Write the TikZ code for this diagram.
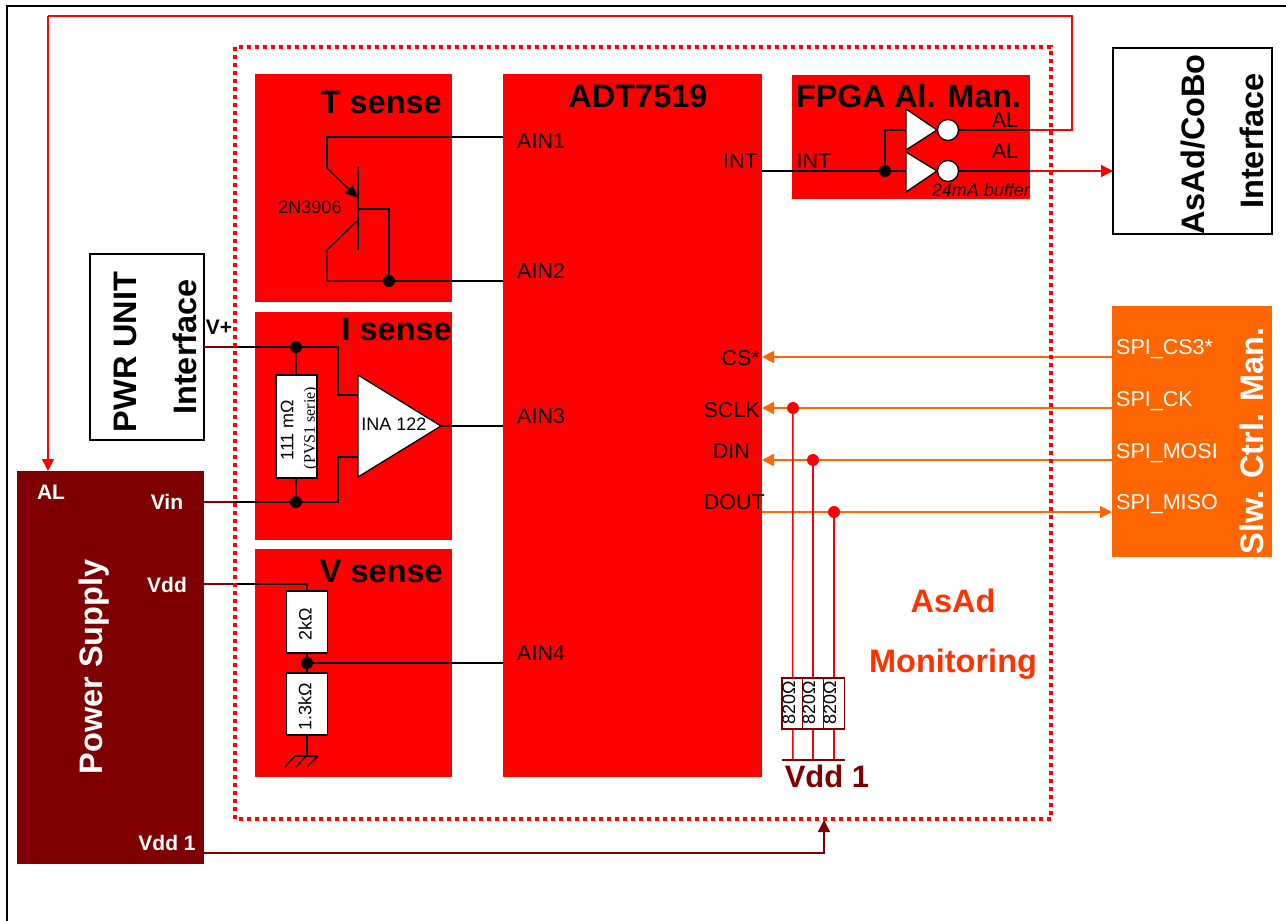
\documentclass[tikz,border=0pt]{standalone}
\usepackage{fontspec}
\setmainfont{Liberation Sans}
\newfontfamily\serifpart{Liberation Serif}
\usetikzlibrary{arrows.meta}
\definecolor{darkmaroon}{HTML}{7F0000}
\definecolor{slworange}{HTML}{FF6600}
\definecolor{asadorange}{HTML}{FF3300}
\tikzset{
  block/.style={fill=red, inner sep=0pt},
  whitebox/.style={draw=black, line width=1.5pt, fill=white, inner sep=0pt},
  resbox/.style={draw=black, line width=1.3pt, fill=white, inner sep=0pt},
  pullbox/.style={draw=darkmaroon, line width=1.5pt, fill=white, inner sep=0pt, minimum width=21, minimum height=51},
  dot/.style={circle, fill=black, inner sep=0pt, minimum size=12},
  reddot/.style={circle, fill=red, inner sep=0pt, minimum size=12},
  pin/.style={inner sep=0pt, font=\fontsize{21.5}{23}\selectfont},
  small/.style={inner sep=0pt, font=\fontsize{18}{20}\selectfont},
  title/.style={inner sep=0pt, font=\fontsize{32.5}{35}\selectfont\bfseries},
  port/.style={inner sep=0pt, font=\fontsize{21}{23}\selectfont\bfseries},
  wire/.style={black, line width=1.3pt},
  feed/.style={darkmaroon, line width=2pt},
  alarm/.style={red, line width=1.5pt},
  spi/.style={slworange, line width=1.8pt},
  pull/.style={red, line width=1.5pt},
  tip/.style={-{Triangle[length=12pt,width=12pt]}}
}
\begin{document}
\begin{tikzpicture}[x=1pt,y=-1pt]
\useasboundingbox (0,0) rectangle (1286,921);
\coordinate (framebl) at (7,921);
\coordinate (frametl) at (7,6);
\coordinate (frametr) at (1286,6);
\draw[black, line width=1.5pt] (framebl) -- (frametl) -- (frametr);

% blocks
\node[block, minimum width=197, minimum height=228] (tsense) at (353.5,188) {};
\node[block, minimum width=197, minimum height=228] (isense) at (353.5,426) {};
\node[block, minimum width=197, minimum height=228] (vsense) at (353.5,663) {};
\node[block, minimum width=259, minimum height=703] (adt) at (632.5,425.5) {};
\node[block, minimum width=238, minimum height=124] (fpga) at (911,137) {};
\node[whitebox, minimum width=159, minimum height=186] (cobo) at (1192.5,141) {};
\node[whitebox, minimum width=114, minimum height=186] (pwr) at (147,347) {};
\node[fill=slworange, inner sep=0pt, minimum width=160, minimum height=251] (slw) at (1192,431.5) {};
\node[fill=darkmaroon, inner sep=0pt, minimum width=187, minimum height=393] (psu) at (110.5,667.5) {};

% block titles
\node[title, anchor=east] (ttitle) at (442,102) {T sense};
\node[title, anchor=east] (ititle) at (452,329) {I sense};
\node[title, anchor=east] (vtitle) at (443,571) {V sense};
\node[title] (adttitle) at (638,96) {ADT7519};
\node[title, font=\fontsize{32.2}{35}\selectfont\bfseries] (fpgatitle) at (908.5,96) {FPGA Al. Man.};
\node[title, rotate=90] (cobotext) at (1193,144.5) {AsAd/CoBo};
\node[title, rotate=90] (cobotextb) at (1252,141) {Interface};
\node[title, rotate=90] (pwrtext) at (125,352) {PWR UNIT};
\node[title, rotate=90] (pwrtextb) at (185,347) {Interface};
\node[title, rotate=90, white] (slwtext) at (1252,441) {Slw. Ctrl. Man.};
\node[title, rotate=90, white] (psutext) at (94.5,667) {Power Supply};
\node[title, asadorange] (mona) at (953,601) {AsAd};
\node[title, asadorange] (monb) at (953,664) {Monitoring};

% ADT pins
\coordinate (ain1) at (503,137);
\coordinate (ain2) at (503,281);
\coordinate (ain3) at (503,426);
\coordinate (ain4) at (503,663);
\coordinate (pint) at (762,171);
\coordinate (pcs) at (762,357);
\coordinate (psclk) at (762,408);
\coordinate (pdin) at (762,460);
\coordinate (pdout) at (762,512);
\node[pin, anchor=west] (lain1) at (517,141) {AIN1};
\node[pin, anchor=west] (lain2) at (517,271) {AIN2};
\node[pin, anchor=west] (lain3) at (517,416) {AIN3};
\node[pin, anchor=west] (lain4) at (517,653) {AIN4};
\node[pin, anchor=east] (lint) at (758,161) {INT};
\node[pin, anchor=east] (lcs) at (760,358) {CS*};
\node[pin, anchor=east] (lsclk) at (760,410) {SCLK};
\node[pin, anchor=east] (ldin) at (750,451) {DIN};
\node[pin, anchor=east] (ldout) at (765,502) {DOUT};

% T sense
\coordinate (qe) at (327,137);
\coordinate (qea) at (327,168);
\coordinate (qeb) at (358,198);
\coordinate (qba) at (358,167);
\coordinate (qbb) at (358,250);
\coordinate (qbc) at (358,209);
\coordinate (qbd) at (389,209);
\coordinate (qca) at (358,220);
\coordinate (qcb) at (327,250);
\coordinate (qcc) at (327,281);
\node[dot] (tdot) at (389,281) {};
\node[small] (qname) at (310,207) {2N3906};
\draw[wire] (ain1) -- (qe) -- (qea);
\draw[wire, -{Triangle[length=13pt,width=11pt]}] (qea) -- (qeb);
\draw[wire] (qba) -- (qbb);
\draw[wire] (qbc) -- (qbd) -- (tdot);
\draw[wire] (qca) -- (qcb) -- (qcc) -- (tdot);
\draw[wire] (tdot) -- (ain2);

% I sense
\coordinate (vpout) at (204,347);
\coordinate (vpin) at (235,347);
\coordinate (vinout) at (204,502);
\coordinate (vinin) at (235,502);
\coordinate (ina) at (338,347);
\coordinate (inb) at (338,395);
\coordinate (inc) at (358,395);
\coordinate (ind) at (338,502);
\coordinate (ine) at (338,457);
\coordinate (inf) at (358,457);
\coordinate (inga) at (358,375);
\coordinate (ingb) at (441,426);
\coordinate (ingc) at (358,477);
\node[dot] (idota) at (296,347) {};
\node[dot] (idotb) at (296,502) {};
\node[resbox, minimum width=41, minimum height=103] (rshunt) at (296.5,426.5) {};
\node[small, rotate=90] (rshunta) at (287,430) {111 mΩ};
\node[inner sep=0pt, rotate=90, font=\fontsize{16}{17}\selectfont\serifpart] (rshuntb) at (311,428) {(PVS1 serie)};
\draw[wire] (vpin) -- (idota) -- (ina) -- (inb) -- (inc);
\draw[wire] (vinin) -- (idotb) -- (ind) -- (ine) -- (inf);
\draw[wire] (idota) -- (rshunt);
\draw[wire] (idotb) -- (rshunt);
\draw[wire, fill=white] (inga) -- (ingb) -- (ingc) -- cycle;
\node[small] (inaname) at (394,424) {INA 122};
\draw[wire] (ingb) -- (ain3);

% V sense
\coordinate (vddout) at (204,584);
\coordinate (vddin) at (235,584);
\coordinate (vdda) at (307,584);
\coordinate (gnd) at (307,756);
\coordinate (gnda) at (295,756);
\coordinate (gndb) at (318,756);
\coordinate (gndc) at (285,767);
\coordinate (gndd) at (296,767);
\coordinate (gnde) at (307,767);
\coordinate (gndf) at (306,756);
\node[resbox, minimum width=41, minimum height=62] (rtop) at (307,622) {};
\node[resbox, minimum width=41, minimum height=62] (rbot) at (307,704) {};
\node[small, rotate=90] (rtopt) at (305,624) {2kΩ};
\node[small, rotate=90] (rbott) at (305,707) {1.3kΩ};
\node[dot] (vdot) at (307,663) {};
\draw[wire] (vddin) -- (vdda) -- (rtop);
\draw[wire] (rtop) -- (vdot) -- (rbot);
\draw[wire] (rbot) -- (gnd);
\draw[wire] (vdot) -- (ain4);
\draw[wire] (gnda) -- (gndb);
\draw[wire] (gnda) -- (gndc);
\draw[wire] (gndf) -- (gndd);
\draw[wire] (gndb) -- (gnde);

% FPGA buffers
\coordinate (bufin) at (906,171);
\coordinate (bufup) at (885,130);
\coordinate (bufupin) at (906,130);
\coordinate (aout) at (1030,130);
\coordinate (bout) at (1030,171);
\coordinate (ala) at (1072,130);
\coordinate (alb) at (1072,16);
\coordinate (alc) at (48,16);
\coordinate (ald) at (48,471);
\coordinate (cobopin) at (1113,171);
\node[dot] (fdot) at (885,171) {};
\draw[wire] (pint) -- (fdot) -- (bufin);
\draw[wire] (fdot) -- (bufup) -- (bufupin);
\coordinate (uta) at (906,109);
\coordinate (utb) at (937,130);
\coordinate (utc) at (906,150);
\coordinate (lta) at (906,152);
\coordinate (ltb) at (937,171);
\coordinate (ltc) at (906,192);
\draw[wire, fill=white] (uta) -- (utb) -- (utc) -- cycle;
\draw[wire, fill=white] (lta) -- (ltb) -- (ltc) -- cycle;
\node[circle, draw=black, line width=1.3pt, fill=white, inner sep=0pt, minimum size=21] (uinv) at (948,130) {};
\node[circle, draw=black, line width=1.3pt, fill=white, inner sep=0pt, minimum size=21] (linv) at (948,171) {};
\draw[wire] (uinv) -- (aout);
\draw[wire] (linv) -- (bout);
\draw[alarm] (aout) -- (ala) -- (alb) -- (alc);
\draw[alarm, tip] (alc) -- (ald);
\draw[alarm, tip] (bout) -- (cobopin);
\node[pin] (intfpga) at (814,161) {INT};
\node[pin] (ala1) at (1005,120) {AL};
\node[pin] (ala2) at (1005,151) {AL};
\node[small, font=\fontsize{18}{20}\selectfont\itshape, anchor=east] (bufnote) at (1030,190) {24mA buffer};

% SPI lines
\coordinate (scs) at (1112,357);
\coordinate (sck) at (1112,408);
\coordinate (smo) at (1112,460);
\coordinate (smi) at (1112,512);
\draw[spi, tip] (scs) -- (pcs);
\draw[spi, tip] (sck) -- (psclk);
\draw[spi, tip] (smo) -- (pdin);
\draw[spi, tip] (pdout) -- (smi);
\node[pin, white, anchor=west] (lscs) at (1116,349) {SPI\_CS3*};
\node[pin, white, anchor=west] (lsck) at (1116,401) {SPI\_CK};
\node[pin, white, anchor=west] (lsmo) at (1116,453) {SPI\_MOSI};
\node[pin, white, anchor=west] (lsmi) at (1116,504) {SPI\_MISO};

% pull ups
\node[reddot] (dsclk) at (793,408) {};
\node[reddot] (ddin) at (813,460) {};
\node[reddot] (ddout) at (834,512) {};
\node[pullbox] (pa) at (792.5,703.5) {};
\node[pullbox] (pb) at (813,703.5) {};
\node[pullbox] (pc) at (834,703.5) {};
\coordinate (ra) at (793,760);
\coordinate (rb) at (813,760);
\coordinate (rc) at (834,760);
\coordinate (raila) at (782,760);
\coordinate (railb) at (845,760);
\draw[pull] (dsclk) -- (pa);
\draw[pull] (ddin) -- (pb);
\draw[pull] (ddout) -- (pc);
\draw[pull] (pa) -- (ra);
\draw[pull] (pb) -- (rb);
\draw[pull] (pc) -- (rc);
\draw[darkmaroon, line width=1.3pt] (raila) -- (railb);
\node[small, rotate=90] (pat) at (789,703) {820Ω};
\node[small, rotate=90] (pbt) at (809,703) {820Ω};
\node[small, rotate=90] (pct) at (830,703) {820Ω};
\node[title, darkmaroon, font=\fontsize{31}{33}\selectfont\bfseries] (vdd1text) at (827,776) {Vdd 1};

% supply side
\node[port] (vplabel) at (219,327) {V+};
\node[port, white] (allabel) at (51,492) {AL};
\node[port, white] (vinlabel) at (167,502) {Vin};
\node[port, white] (vddlabel) at (167,585) {Vdd};
\node[port, white] (vdd1label) at (167,843) {Vdd 1};
\coordinate (vddaout) at (204,853);
\coordinate (vddacorner) at (824,853);
\coordinate (vddain) at (824,820);
\draw[feed] (vpout) -- (vpin);
\draw[feed] (vinout) -- (vinin);
\draw[feed] (vddout) -- (vddin);
\draw[darkmaroon, line width=1.5pt, tip] (vddaout) -- (vddacorner) -- (vddain);

% monitoring frame
\coordinate (mona1) at (235,47);
\coordinate (mona2) at (1051,819);
\draw[red, line width=3.5pt, dash pattern=on 4pt off 4pt] (mona1) rectangle (mona2);
\end{tikzpicture}
\end{document}
